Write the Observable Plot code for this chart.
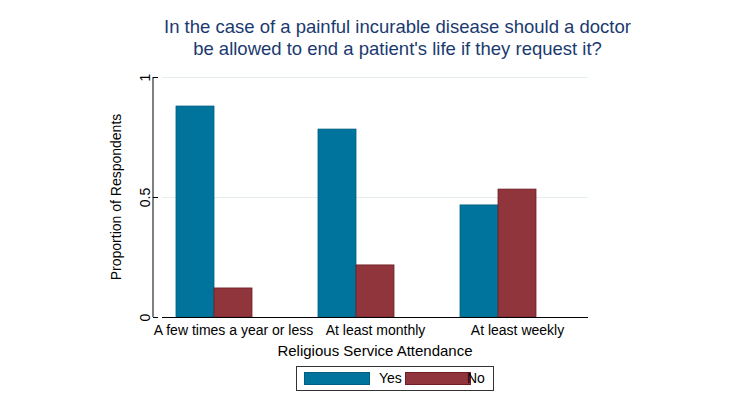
<!DOCTYPE html>
<html><head><meta charset="utf-8">
<script src="https://cdn.jsdelivr.net/npm/d3@7"></script>
<script src="https://cdn.jsdelivr.net/npm/@observablehq/plot@0.6"></script>
<style>
body{margin:0;background:#fff;font-family:"Liberation Sans",Arial,sans-serif}
#wrap{position:relative;width:735px;height:415px}
#title{position:absolute;top:16px;left:0;width:795px;text-align:center;color:#1a3a6f;font-size:18.5px;line-height:22px}
#legend{position:absolute;left:296px;top:366px;width:198px;height:25px;border:1px solid #333;box-sizing:border-box;font-size:14px}
.sw{position:absolute;top:5px;width:66px;height:13px;box-sizing:border-box}
.lb{position:absolute;top:3px}
</style></head><body>
<div id="wrap"><div id="chart"></div>
<div id="title">In the case of a painful incurable disease should a doctor<br>be allowed to end a patient's life if they request it?</div>
<div id="legend"><span class="sw" style="left:7px;background:#00749c;border:1px solid #005f80"></span><span class="lb" style="left:82px">Yes</span><span class="sw" style="left:108px;background:#90353b;border:1px solid #6e1e24"></span><span class="lb" style="left:170px">No</span></div>
</div>
<script>
const categories = ["A few times a year or less","At least monthly","At least weekly"];
const responses = ["Yes","No"];
const yesValues = [0.879,0.783,0.467];
const noValues = [0.121,0.217,0.533];
const yTicks = [0,0.5,1];
const yTickLabels = ["0","0.5","1"];
const data = [];
categories.forEach((c,i)=>{data.push({cat:c,resp:"Yes",v:yesValues[i]});data.push({cat:c,resp:"No",v:noValues[i]});});
const chart = Plot.plot({
  width:735,height:415,marginLeft:153,marginRight:138,marginTop:77,marginBottom:98,
  style:{fontFamily:"Liberation Sans, Arial, sans-serif",fontSize:"14px",color:"#000",background:"#fff"},
  fx:{domain:categories,padding:0,paddingOuter:0.06,label:null},
  x:{domain:["Yes","No",""],paddingInner:0,paddingOuter:0.345,axis:null},
  y:{domain:[0,1],label:null,axis:null},
  color:{domain:responses,range:["#00749c","#90353b"]},
  marks:[
    Plot.gridY(yTicks,{stroke:"#e4eef0",strokeOpacity:1}),
    Plot.barY(data,{fx:"cat",x:"resp",y:"v",fill:"resp",stroke:d=>d.resp==="Yes"?"#005f80":"#6e1e24",strokeWidth:0.8}),
    Plot.axisY(yTicks,{tickRotate:-90,tickSize:5,tickPadding:4,anchor:"left",textAnchor:"middle",dx:-4,fontSize:14,tickFormat:(d,i)=>yTickLabels[i],label:null}),
    Plot.axisFx({anchor:"bottom",tickSize:0,tickPadding:8,fontSize:14,label:null}),
    Plot.ruleY([0],{stroke:"#000"})
  ]
});
document.getElementById("chart").appendChild(chart);
const svg=d3.select(chart);
svg.append("text").attr("x",121).attr("y",197).attr("transform","rotate(-90,121,197)").attr("text-anchor","middle").attr("font-size",14).text("Proportion of Respondents");
svg.append("text").attr("x",375).attr("y",356).attr("text-anchor","middle").attr("font-size",15).text("Religious Service Attendance");
svg.append("line").attr("x1",153).attr("x2",153).attr("y1",77).attr("y2",317).attr("stroke","#000");
</script></body></html>
